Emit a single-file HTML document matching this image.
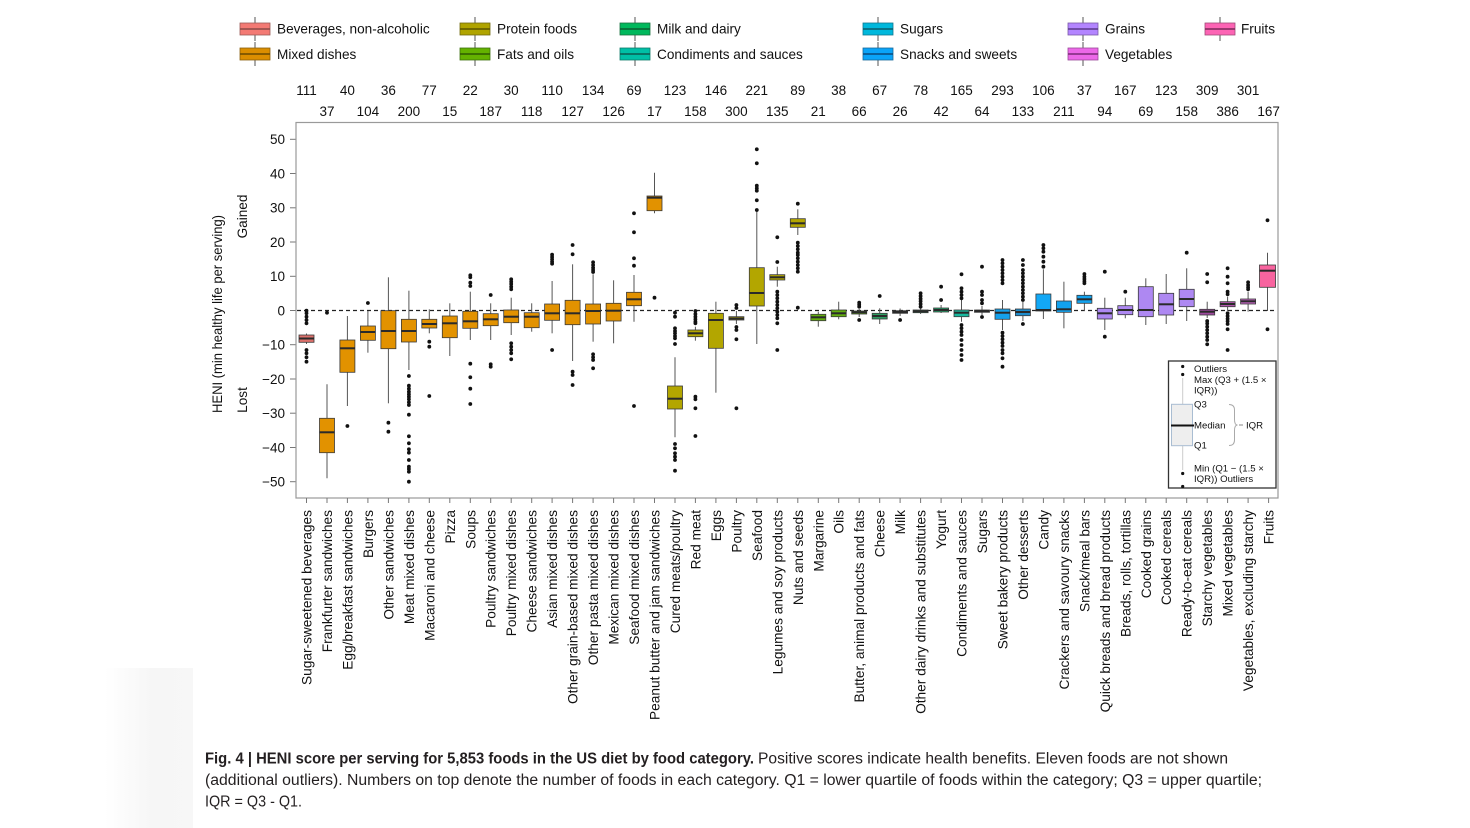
<!DOCTYPE html>
<html><head><meta charset="utf-8"><style>
html,body{margin:0;padding:0;background:#fff;}
svg{display:block;font-family:"Liberation Sans",Arial,sans-serif;}
.w{stroke:#555;stroke-width:1;}
.b{stroke:#3a3a3a;stroke-width:0.8;}
.m{stroke:#2a2a2a;stroke-width:2;}
.lt{font-size:13.6px;fill:#111;}
.cn{font-size:13.5px;fill:#111;text-anchor:middle;}
.yt{font-size:13.5px;fill:#111;text-anchor:end;}
.xl{font-size:13.7px;fill:#111;text-anchor:end;}
.lg{font-size:9.6px;fill:#111;}
</style></head><body>
<svg width="1470" height="828" viewBox="0 0 1470 828" xmlns="http://www.w3.org/2000/svg">
<defs>
<linearGradient id="fg" x1="0" x2="1" y1="0" y2="0">
<stop offset="0" stop-color="#f6f6f6" stop-opacity="0"/>
<stop offset="0.55" stop-color="#f6f6f6" stop-opacity="1"/>
<stop offset="1" stop-color="#f7f7f7" stop-opacity="1"/>
</linearGradient>
</defs>
<rect x="0" y="0" width="1470" height="828" fill="#fff"/>
<rect x="105" y="668" width="88" height="160" fill="url(#fg)"/>

<!-- Top legend -->
<g>
<g transform="translate(240,0)"><line x1="15" y1="17" x2="15" y2="41" class="w" stroke="#888"/><rect x="0" y="23" width="30" height="12" fill="#F37A74" stroke="#9a5a56" stroke-width="0.8"/><line x1="0" y1="29" x2="30" y2="29" stroke="#8a4a46" stroke-width="1.5"/></g>
<text x="277" y="33.5" class="lt">Beverages, non-alcoholic</text>
<g transform="translate(240,25)"><line x1="15" y1="17" x2="15" y2="41" class="w" stroke="#888"/><rect x="0" y="23" width="30" height="12" fill="#DB8E00" stroke="#8a6010" stroke-width="0.8"/><line x1="0" y1="29" x2="30" y2="29" stroke="#6a4a00" stroke-width="1.5"/></g>
<text x="277" y="59" class="lt">Mixed dishes</text>

<g transform="translate(460,0)"><line x1="15" y1="17" x2="15" y2="41" class="w" stroke="#888"/><rect x="0" y="23" width="30" height="12" fill="#B0A400" stroke="#706a10" stroke-width="0.8"/><line x1="0" y1="29" x2="30" y2="29" stroke="#5a5500" stroke-width="1.5"/></g>
<text x="497" y="33.5" class="lt">Protein foods</text>
<g transform="translate(460,25)"><line x1="15" y1="17" x2="15" y2="41" class="w" stroke="#888"/><rect x="0" y="23" width="30" height="12" fill="#64B200" stroke="#3e7010" stroke-width="0.8"/><line x1="0" y1="29" x2="30" y2="29" stroke="#2e5a00" stroke-width="1.5"/></g>
<text x="497" y="59" class="lt">Fats and oils</text>

<g transform="translate(620,0)"><line x1="15" y1="17" x2="15" y2="41" class="w" stroke="#888"/><rect x="0" y="23" width="30" height="12" fill="#00B85C" stroke="#1a7040" stroke-width="0.8"/><line x1="0" y1="29" x2="30" y2="29" stroke="#0a5a30" stroke-width="1.5"/></g>
<text x="657" y="33.5" class="lt">Milk and dairy</text>
<g transform="translate(620,25)"><line x1="15" y1="17" x2="15" y2="41" class="w" stroke="#888"/><rect x="0" y="23" width="30" height="12" fill="#00BFA6" stroke="#107a6a" stroke-width="0.8"/><line x1="0" y1="29" x2="30" y2="29" stroke="#0a5a50" stroke-width="1.5"/></g>
<text x="657" y="59" class="lt">Condiments and sauces</text>

<g transform="translate(863,0)"><line x1="15" y1="17" x2="15" y2="41" class="w" stroke="#888"/><rect x="0" y="23" width="30" height="12" fill="#00B8DC" stroke="#107890" stroke-width="0.8"/><line x1="0" y1="29" x2="30" y2="29" stroke="#0a5a6a" stroke-width="1.5"/></g>
<text x="900" y="33.5" class="lt">Sugars</text>
<g transform="translate(863,25)"><line x1="15" y1="17" x2="15" y2="41" class="w" stroke="#888"/><rect x="0" y="23" width="30" height="12" fill="#0AA4F8" stroke="#1a6a9a" stroke-width="0.8"/><line x1="0" y1="29" x2="30" y2="29" stroke="#0a4a7a" stroke-width="1.5"/></g>
<text x="900" y="59" class="lt">Snacks and sweets</text>

<g transform="translate(1068,0)"><line x1="15" y1="17" x2="15" y2="41" class="w" stroke="#888"/><rect x="0" y="23" width="30" height="12" fill="#B385FF" stroke="#7a5aa8" stroke-width="0.8"/><line x1="0" y1="29" x2="30" y2="29" stroke="#5a3a8a" stroke-width="1.5"/></g>
<text x="1105" y="33.5" class="lt">Grains</text>
<g transform="translate(1068,25)"><line x1="15" y1="17" x2="15" y2="41" class="w" stroke="#888"/><rect x="0" y="23" width="30" height="12" fill="#EC68E8" stroke="#9a4a98" stroke-width="0.8"/><line x1="0" y1="29" x2="30" y2="29" stroke="#7a2a78" stroke-width="1.5"/></g>
<text x="1105" y="59" class="lt">Vegetables</text>

<g transform="translate(1205,0)"><line x1="15" y1="17" x2="15" y2="41" class="w" stroke="#888"/><rect x="0" y="23" width="30" height="12" fill="#FC64B4" stroke="#a04a78" stroke-width="0.8"/><line x1="0" y1="29" x2="30" y2="29" stroke="#7a2a58" stroke-width="1.5"/></g>
<text x="1241" y="33.5" class="lt">Fruits</text>
</g>

<!-- Counts -->
<g>
<text x="306.5" y="95" class="cn">111</text>
<text x="327.0" y="116" class="cn">37</text>
<text x="347.4" y="95" class="cn">40</text>
<text x="367.9" y="116" class="cn">104</text>
<text x="388.4" y="95" class="cn">36</text>
<text x="408.9" y="116" class="cn">200</text>
<text x="429.3" y="95" class="cn">77</text>
<text x="449.8" y="116" class="cn">15</text>
<text x="470.3" y="95" class="cn">22</text>
<text x="490.7" y="116" class="cn">187</text>
<text x="511.2" y="95" class="cn">30</text>
<text x="531.7" y="116" class="cn">118</text>
<text x="552.1" y="95" class="cn">110</text>
<text x="572.6" y="116" class="cn">127</text>
<text x="593.1" y="95" class="cn">134</text>
<text x="613.6" y="116" class="cn">126</text>
<text x="634.0" y="95" class="cn">69</text>
<text x="654.5" y="116" class="cn">17</text>
<text x="675.0" y="95" class="cn">123</text>
<text x="695.4" y="116" class="cn">158</text>
<text x="715.9" y="95" class="cn">146</text>
<text x="736.4" y="116" class="cn">300</text>
<text x="756.8" y="95" class="cn">221</text>
<text x="777.3" y="116" class="cn">135</text>
<text x="797.8" y="95" class="cn">89</text>
<text x="818.3" y="116" class="cn">21</text>
<text x="838.7" y="95" class="cn">38</text>
<text x="859.2" y="116" class="cn">66</text>
<text x="879.7" y="95" class="cn">67</text>
<text x="900.1" y="116" class="cn">26</text>
<text x="920.6" y="95" class="cn">78</text>
<text x="941.1" y="116" class="cn">42</text>
<text x="961.5" y="95" class="cn">165</text>
<text x="982.0" y="116" class="cn">64</text>
<text x="1002.5" y="95" class="cn">293</text>
<text x="1022.9" y="116" class="cn">133</text>
<text x="1043.4" y="95" class="cn">106</text>
<text x="1063.9" y="116" class="cn">211</text>
<text x="1084.4" y="95" class="cn">37</text>
<text x="1104.8" y="116" class="cn">94</text>
<text x="1125.3" y="95" class="cn">167</text>
<text x="1145.8" y="116" class="cn">69</text>
<text x="1166.2" y="95" class="cn">123</text>
<text x="1186.7" y="116" class="cn">158</text>
<text x="1207.2" y="95" class="cn">309</text>
<text x="1227.6" y="116" class="cn">386</text>
<text x="1248.1" y="95" class="cn">301</text>
<text x="1268.6" y="116" class="cn">167</text>
</g>

<!-- Axis titles -->
<text transform="translate(222,314) rotate(-90)" text-anchor="middle" style="font-size:13.6px;fill:#111" textLength="198" lengthAdjust="spacingAndGlyphs">HENI (min healthy life per serving)</text>
<text transform="translate(247,216.5) rotate(-90)" text-anchor="middle" style="font-size:13.6px;fill:#111">Gained</text>
<text transform="translate(247,400) rotate(-90)" text-anchor="middle" style="font-size:13.6px;fill:#111">Lost</text>

<!-- Y ticks -->
<g stroke="#777" stroke-width="1">
<line x1="290" y1="139.3" x2="296" y2="139.3"/>
<line x1="290" y1="173.5" x2="296" y2="173.5"/>
<line x1="290" y1="207.8" x2="296" y2="207.8"/>
<line x1="290" y1="242" x2="296" y2="242"/>
<line x1="290" y1="276.3" x2="296" y2="276.3"/>
<line x1="290" y1="310.5" x2="296" y2="310.5"/>
<line x1="290" y1="344.7" x2="296" y2="344.7"/>
<line x1="290" y1="379" x2="296" y2="379"/>
<line x1="290" y1="413.2" x2="296" y2="413.2"/>
<line x1="290" y1="447.5" x2="296" y2="447.5"/>
<line x1="290" y1="481.7" x2="296" y2="481.7"/>
</g>
<g>
<text x="285" y="144.1" class="yt">50</text>
<text x="285" y="178.3" class="yt">40</text>
<text x="285" y="212.6" class="yt">30</text>
<text x="285" y="246.8" class="yt">20</text>
<text x="285" y="281.1" class="yt">10</text>
<text x="285" y="315.3" class="yt">0</text>
<text x="285" y="349.5" class="yt">−10</text>
<text x="285" y="383.8" class="yt">−20</text>
<text x="285" y="418" class="yt">−30</text>
<text x="285" y="452.3" class="yt">−40</text>
<text x="285" y="486.5" class="yt">−50</text>
</g>

<!-- Plot frame -->
<rect x="296" y="122.5" width="982" height="375.5" fill="none" stroke="#9a9a9a" stroke-width="1.2"/>
<line x1="297" y1="310.5" x2="1277" y2="310.5" stroke="#222" stroke-width="1.3" stroke-dasharray="4 3"/>

<!-- X ticks -->
<g stroke="#777" stroke-width="1">
<line x1="306.5" y1="498" x2="306.5" y2="503"/><line x1="327.0" y1="498" x2="327.0" y2="503"/><line x1="347.4" y1="498" x2="347.4" y2="503"/><line x1="367.9" y1="498" x2="367.9" y2="503"/><line x1="388.4" y1="498" x2="388.4" y2="503"/><line x1="408.9" y1="498" x2="408.9" y2="503"/><line x1="429.3" y1="498" x2="429.3" y2="503"/><line x1="449.8" y1="498" x2="449.8" y2="503"/><line x1="470.3" y1="498" x2="470.3" y2="503"/><line x1="490.7" y1="498" x2="490.7" y2="503"/><line x1="511.2" y1="498" x2="511.2" y2="503"/><line x1="531.7" y1="498" x2="531.7" y2="503"/><line x1="552.1" y1="498" x2="552.1" y2="503"/><line x1="572.6" y1="498" x2="572.6" y2="503"/><line x1="593.1" y1="498" x2="593.1" y2="503"/><line x1="613.6" y1="498" x2="613.6" y2="503"/><line x1="634.0" y1="498" x2="634.0" y2="503"/><line x1="654.5" y1="498" x2="654.5" y2="503"/><line x1="675.0" y1="498" x2="675.0" y2="503"/><line x1="695.4" y1="498" x2="695.4" y2="503"/><line x1="715.9" y1="498" x2="715.9" y2="503"/><line x1="736.4" y1="498" x2="736.4" y2="503"/><line x1="756.8" y1="498" x2="756.8" y2="503"/><line x1="777.3" y1="498" x2="777.3" y2="503"/><line x1="797.8" y1="498" x2="797.8" y2="503"/><line x1="818.3" y1="498" x2="818.3" y2="503"/><line x1="838.7" y1="498" x2="838.7" y2="503"/><line x1="859.2" y1="498" x2="859.2" y2="503"/><line x1="879.7" y1="498" x2="879.7" y2="503"/><line x1="900.1" y1="498" x2="900.1" y2="503"/><line x1="920.6" y1="498" x2="920.6" y2="503"/><line x1="941.1" y1="498" x2="941.1" y2="503"/><line x1="961.5" y1="498" x2="961.5" y2="503"/><line x1="982.0" y1="498" x2="982.0" y2="503"/><line x1="1002.5" y1="498" x2="1002.5" y2="503"/><line x1="1022.9" y1="498" x2="1022.9" y2="503"/><line x1="1043.4" y1="498" x2="1043.4" y2="503"/><line x1="1063.9" y1="498" x2="1063.9" y2="503"/><line x1="1084.4" y1="498" x2="1084.4" y2="503"/><line x1="1104.8" y1="498" x2="1104.8" y2="503"/><line x1="1125.3" y1="498" x2="1125.3" y2="503"/><line x1="1145.8" y1="498" x2="1145.8" y2="503"/><line x1="1166.2" y1="498" x2="1166.2" y2="503"/><line x1="1186.7" y1="498" x2="1186.7" y2="503"/><line x1="1207.2" y1="498" x2="1207.2" y2="503"/><line x1="1227.6" y1="498" x2="1227.6" y2="503"/><line x1="1248.1" y1="498" x2="1248.1" y2="503"/><line x1="1268.6" y1="498" x2="1268.6" y2="503"/>
</g>

<!-- X labels -->
<g>
<text transform="translate(311.5,510) rotate(-90)" class="xl">Sugar-sweetened beverages</text>
<text transform="translate(332.0,510) rotate(-90)" class="xl">Frankfurter sandwiches</text>
<text transform="translate(352.4,510) rotate(-90)" class="xl">Egg/breakfast sandwiches</text>
<text transform="translate(372.9,510) rotate(-90)" class="xl">Burgers</text>
<text transform="translate(393.4,510) rotate(-90)" class="xl">Other sandwiches</text>
<text transform="translate(413.9,510) rotate(-90)" class="xl">Meat mixed dishes</text>
<text transform="translate(434.3,510) rotate(-90)" class="xl">Macaroni and cheese</text>
<text transform="translate(454.8,510) rotate(-90)" class="xl">Pizza</text>
<text transform="translate(475.3,510) rotate(-90)" class="xl">Soups</text>
<text transform="translate(495.7,510) rotate(-90)" class="xl">Poultry sandwiches</text>
<text transform="translate(516.2,510) rotate(-90)" class="xl">Poultry mixed dishes</text>
<text transform="translate(536.7,510) rotate(-90)" class="xl">Cheese sandwiches</text>
<text transform="translate(557.1,510) rotate(-90)" class="xl">Asian mixed dishes</text>
<text transform="translate(577.6,510) rotate(-90)" class="xl">Other grain-based mixed dishes</text>
<text transform="translate(598.1,510) rotate(-90)" class="xl">Other pasta mixed dishes</text>
<text transform="translate(618.6,510) rotate(-90)" class="xl">Mexican mixed dishes</text>
<text transform="translate(639.0,510) rotate(-90)" class="xl">Seafood mixed dishes</text>
<text transform="translate(659.5,510) rotate(-90)" class="xl">Peanut butter and jam sandwiches</text>
<text transform="translate(680.0,510) rotate(-90)" class="xl">Cured meats/poultry</text>
<text transform="translate(700.4,510) rotate(-90)" class="xl">Red meat</text>
<text transform="translate(720.9,510) rotate(-90)" class="xl">Eggs</text>
<text transform="translate(741.4,510) rotate(-90)" class="xl">Poultry</text>
<text transform="translate(761.8,510) rotate(-90)" class="xl">Seafood</text>
<text transform="translate(782.3,510) rotate(-90)" class="xl">Legumes and soy products</text>
<text transform="translate(802.8,510) rotate(-90)" class="xl">Nuts and seeds</text>
<text transform="translate(823.3,510) rotate(-90)" class="xl">Margarine</text>
<text transform="translate(843.7,510) rotate(-90)" class="xl">Oils</text>
<text transform="translate(864.2,510) rotate(-90)" class="xl">Butter, animal products and fats</text>
<text transform="translate(884.7,510) rotate(-90)" class="xl">Cheese</text>
<text transform="translate(905.1,510) rotate(-90)" class="xl">Milk</text>
<text transform="translate(925.6,510) rotate(-90)" class="xl">Other dairy drinks and substitutes</text>
<text transform="translate(946.1,510) rotate(-90)" class="xl">Yogurt</text>
<text transform="translate(966.5,510) rotate(-90)" class="xl">Condiments and sauces</text>
<text transform="translate(987.0,510) rotate(-90)" class="xl">Sugars</text>
<text transform="translate(1007.5,510) rotate(-90)" class="xl">Sweet bakery products</text>
<text transform="translate(1027.9,510) rotate(-90)" class="xl">Other desserts</text>
<text transform="translate(1048.4,510) rotate(-90)" class="xl">Candy</text>
<text transform="translate(1068.9,510) rotate(-90)" class="xl">Crackers and savoury snacks</text>
<text transform="translate(1089.4,510) rotate(-90)" class="xl">Snack/meal bars</text>
<text transform="translate(1109.8,510) rotate(-90)" class="xl">Quick breads and bread products</text>
<text transform="translate(1130.3,510) rotate(-90)" class="xl">Breads, rolls, tortillas</text>
<text transform="translate(1150.8,510) rotate(-90)" class="xl">Cooked grains</text>
<text transform="translate(1171.2,510) rotate(-90)" class="xl">Cooked cereals</text>
<text transform="translate(1191.7,510) rotate(-90)" class="xl">Ready-to-eat cereals</text>
<text transform="translate(1212.2,510) rotate(-90)" class="xl">Starchy vegetables</text>
<text transform="translate(1232.6,510) rotate(-90)" class="xl">Mixed vegetables</text>
<text transform="translate(1253.1,510) rotate(-90)" class="xl">Vegetables, excluding starchy</text>
<text transform="translate(1273.6,510) rotate(-90)" class="xl">Fruits</text>
</g>

<!-- Boxes -->
<g>
<line x1="306.5" y1="333.5" x2="306.5" y2="344" class="w"/>
<rect x="299" y="335" width="15" height="7.3" fill="#DC716C" class="b"/>
<line x1="299" y1="338.5" x2="314" y2="338.5" class="m"/>
<line x1="327" y1="384.3" x2="327" y2="478.3" class="w"/>
<rect x="319.5" y="418.3" width="15" height="34.4" fill="#E29200" class="b"/>
<line x1="319.5" y1="432.3" x2="334.5" y2="432.3" class="m"/>
<line x1="347.4" y1="316" x2="347.4" y2="406" class="w"/>
<rect x="339.9" y="340" width="15" height="32.3" fill="#E29200" class="b"/>
<line x1="339.9" y1="348.3" x2="354.9" y2="348.3" class="m"/>
<line x1="367.9" y1="311" x2="367.9" y2="352.7" class="w"/>
<rect x="360.4" y="326" width="15" height="14.3" fill="#E29200" class="b"/>
<line x1="360.4" y1="332" x2="375.4" y2="332" class="m"/>
<line x1="388.4" y1="277.3" x2="388.4" y2="403.3" class="w"/>
<rect x="380.9" y="310.7" width="15" height="38" fill="#E29200" class="b"/>
<line x1="380.9" y1="331" x2="395.9" y2="331" class="m"/>
<line x1="408.9" y1="290.7" x2="408.9" y2="370" class="w"/>
<rect x="401.4" y="319.3" width="15" height="22.7" fill="#E29200" class="b"/>
<line x1="401.4" y1="331" x2="416.4" y2="331" class="m"/>
<line x1="429.3" y1="309.3" x2="429.3" y2="333.3" class="w"/>
<rect x="421.8" y="319.3" width="15" height="8.7" fill="#E29200" class="b"/>
<line x1="421.8" y1="324" x2="436.8" y2="324" class="m"/>
<line x1="449.8" y1="303.3" x2="449.8" y2="356" class="w"/>
<rect x="442.3" y="316" width="15" height="21.7" fill="#E29200" class="b"/>
<line x1="442.3" y1="323.3" x2="457.3" y2="323.3" class="m"/>
<line x1="470.3" y1="291.7" x2="470.3" y2="340" class="w"/>
<rect x="462.8" y="311.3" width="15" height="17" fill="#E29200" class="b"/>
<line x1="462.8" y1="321.3" x2="477.8" y2="321.3" class="m"/>
<line x1="490.7" y1="303.3" x2="490.7" y2="340" class="w"/>
<rect x="483.2" y="313.7" width="15" height="12" fill="#E29200" class="b"/>
<line x1="483.2" y1="319.3" x2="498.2" y2="319.3" class="m"/>
<line x1="511.2" y1="297.7" x2="511.2" y2="335" class="w"/>
<rect x="503.7" y="310" width="15" height="12.7" fill="#E29200" class="b"/>
<line x1="503.7" y1="316.7" x2="518.7" y2="316.7" class="m"/>
<line x1="531.7" y1="303.3" x2="531.7" y2="331.7" class="w"/>
<rect x="524.2" y="312.7" width="15" height="15" fill="#E29200" class="b"/>
<line x1="524.2" y1="316.7" x2="539.2" y2="316.7" class="m"/>
<line x1="552.1" y1="281" x2="552.1" y2="333.3" class="w"/>
<rect x="544.6" y="304" width="15" height="16.3" fill="#E29200" class="b"/>
<line x1="544.6" y1="313.3" x2="559.6" y2="313.3" class="m"/>
<line x1="572.6" y1="264.3" x2="572.6" y2="361" class="w"/>
<rect x="565.1" y="300.3" width="15" height="24.4" fill="#E29200" class="b"/>
<line x1="565.1" y1="313.3" x2="580.1" y2="313.3" class="m"/>
<line x1="593.1" y1="274.3" x2="593.1" y2="341.7" class="w"/>
<rect x="585.6" y="304" width="15" height="20" fill="#E29200" class="b"/>
<line x1="585.6" y1="311" x2="600.6" y2="311" class="m"/>
<line x1="613.6" y1="280.3" x2="613.6" y2="343.3" class="w"/>
<rect x="606.1" y="303.3" width="15" height="17.7" fill="#E29200" class="b"/>
<line x1="606.1" y1="310.7" x2="621.1" y2="310.7" class="m"/>
<line x1="634" y1="275" x2="634" y2="321.7" class="w"/>
<rect x="626.5" y="292.3" width="15" height="13.4" fill="#E29200" class="b"/>
<line x1="626.5" y1="299.3" x2="641.5" y2="299.3" class="m"/>
<line x1="654.5" y1="172.7" x2="654.5" y2="213.3" class="w"/>
<rect x="647" y="196" width="15" height="14.7" fill="#E29200" class="b"/>
<line x1="647" y1="197.7" x2="662" y2="197.7" class="m"/>
<line x1="675" y1="357.3" x2="675" y2="437.3" class="w"/>
<rect x="667.5" y="386" width="15" height="23" fill="#B3A600" class="b"/>
<line x1="667.5" y1="398.7" x2="682.5" y2="398.7" class="m"/>
<line x1="695.4" y1="326.7" x2="695.4" y2="340.7" class="w"/>
<rect x="687.9" y="330" width="15" height="6.7" fill="#B3A600" class="b"/>
<line x1="687.9" y1="333.3" x2="702.9" y2="333.3" class="m"/>
<line x1="715.9" y1="301.7" x2="715.9" y2="392.7" class="w"/>
<rect x="708.4" y="313.3" width="15" height="35" fill="#B3A600" class="b"/>
<line x1="708.4" y1="320" x2="723.4" y2="320" class="m"/>
<line x1="736.4" y1="311" x2="736.4" y2="324" class="w"/>
<rect x="728.9" y="316.7" width="15" height="3.3" fill="#B3A600" class="b"/>
<line x1="728.9" y1="318.5" x2="743.9" y2="318.5" class="m"/>
<line x1="756.8" y1="210.7" x2="756.8" y2="344" class="w"/>
<rect x="749.3" y="267.7" width="15" height="38.3" fill="#B3A600" class="b"/>
<line x1="749.3" y1="293" x2="764.3" y2="293" class="m"/>
<line x1="777.3" y1="266.7" x2="777.3" y2="286.7" class="w"/>
<rect x="769.8" y="274.7" width="15" height="5.3" fill="#B3A600" class="b"/>
<line x1="769.8" y1="277.3" x2="784.8" y2="277.3" class="m"/>
<line x1="797.8" y1="209.3" x2="797.8" y2="235" class="w"/>
<rect x="790.3" y="218.7" width="15" height="8.6" fill="#B3A600" class="b"/>
<line x1="790.3" y1="223.3" x2="805.3" y2="223.3" class="m"/>
<line x1="818.3" y1="311.7" x2="818.3" y2="326.7" class="w"/>
<rect x="810.8" y="314.3" width="15" height="6.4" fill="#62AE0E" class="b"/>
<line x1="810.8" y1="317.3" x2="825.8" y2="317.3" class="m"/>
<line x1="838.7" y1="301.7" x2="838.7" y2="319.3" class="w"/>
<rect x="831.2" y="310" width="15" height="6.7" fill="#62AE0E" class="b"/>
<line x1="831.2" y1="313.3" x2="846.2" y2="313.3" class="m"/>
<line x1="859.2" y1="309" x2="859.2" y2="317" class="w"/>
<rect x="851.7" y="311" width="15" height="3" fill="#62AE0E" class="b"/>
<line x1="851.7" y1="312.3" x2="866.7" y2="312.3" class="m"/>
<line x1="879.7" y1="308.3" x2="879.7" y2="324" class="w"/>
<rect x="872.2" y="313.3" width="15" height="5.7" fill="#2E9E62" class="b"/>
<line x1="872.2" y1="316" x2="887.2" y2="316" class="m"/>
<line x1="900.1" y1="308.5" x2="900.1" y2="316" class="w"/>
<rect x="892.6" y="310.7" width="15" height="2.6" fill="#2E9E62" class="b"/>
<line x1="892.6" y1="312" x2="907.6" y2="312" class="m"/>
<line x1="920.6" y1="308" x2="920.6" y2="314" class="w"/>
<rect x="913.1" y="310" width="15" height="2.7" fill="#2E9E62" class="b"/>
<line x1="913.1" y1="311.3" x2="928.1" y2="311.3" class="m"/>
<line x1="941.1" y1="305" x2="941.1" y2="313" class="w"/>
<rect x="933.6" y="308" width="15" height="4" fill="#22A86C" class="b"/>
<line x1="933.6" y1="310" x2="948.6" y2="310" class="m"/>
<line x1="961.5" y1="300" x2="961.5" y2="321.7" class="w"/>
<rect x="954" y="310" width="15" height="6.7" fill="#18B89E" class="b"/>
<line x1="954" y1="312.7" x2="969" y2="312.7" class="m"/>
<line x1="982" y1="306" x2="982" y2="315" class="w"/>
<rect x="974.5" y="310" width="15" height="2.3" fill="#0CB4D8" class="b"/>
<line x1="974.5" y1="311" x2="989.5" y2="311" class="m"/>
<line x1="1002.5" y1="300" x2="1002.5" y2="330" class="w"/>
<rect x="995" y="309" width="15" height="10.3" fill="#14A0EC" class="b"/>
<line x1="995" y1="312.7" x2="1010" y2="312.7" class="m"/>
<line x1="1022.9" y1="302" x2="1022.9" y2="321" class="w"/>
<rect x="1015.4" y="309" width="15" height="6.7" fill="#1E8CCC" class="b"/>
<line x1="1015.4" y1="312" x2="1030.4" y2="312" class="m"/>
<line x1="1043.4" y1="269.3" x2="1043.4" y2="319" class="w"/>
<rect x="1035.9" y="294" width="15" height="17" fill="#12A8F6" class="b"/>
<line x1="1035.9" y1="310" x2="1050.9" y2="310" class="m"/>
<line x1="1063.9" y1="281.7" x2="1063.9" y2="328.3" class="w"/>
<rect x="1056.4" y="301" width="15" height="11.3" fill="#12A2EE" class="b"/>
<line x1="1056.4" y1="309.3" x2="1071.4" y2="309.3" class="m"/>
<line x1="1084.4" y1="291.7" x2="1084.4" y2="311" class="w"/>
<rect x="1076.9" y="295.3" width="15" height="8" fill="#12A2EE" class="b"/>
<line x1="1076.9" y1="299.3" x2="1091.9" y2="299.3" class="m"/>
<line x1="1104.8" y1="297.7" x2="1104.8" y2="330" class="w"/>
<rect x="1097.3" y="308.3" width="15" height="10.7" fill="#AE88F2" class="b"/>
<line x1="1097.3" y1="313.3" x2="1112.3" y2="313.3" class="m"/>
<line x1="1125.3" y1="297.7" x2="1125.3" y2="318.3" class="w"/>
<rect x="1117.8" y="305.7" width="15" height="9" fill="#AE88F2" class="b"/>
<line x1="1117.8" y1="310" x2="1132.8" y2="310" class="m"/>
<line x1="1145.8" y1="278.3" x2="1145.8" y2="325" class="w"/>
<rect x="1138.3" y="286.7" width="15" height="30" fill="#AE88F2" class="b"/>
<line x1="1138.3" y1="310" x2="1153.3" y2="310" class="m"/>
<line x1="1166.2" y1="274" x2="1166.2" y2="324" class="w"/>
<rect x="1158.7" y="293.3" width="15" height="21.7" fill="#AE88F2" class="b"/>
<line x1="1158.7" y1="304.3" x2="1173.7" y2="304.3" class="m"/>
<line x1="1186.7" y1="268.3" x2="1186.7" y2="321" class="w"/>
<rect x="1179.2" y="289.3" width="15" height="17.4" fill="#AE88F2" class="b"/>
<line x1="1179.2" y1="299" x2="1194.2" y2="299" class="m"/>
<line x1="1207.2" y1="301.7" x2="1207.2" y2="318" class="w"/>
<rect x="1199.7" y="309.3" width="15" height="5.7" fill="#9E4A9E" class="b"/>
<line x1="1199.7" y1="311.7" x2="1214.7" y2="311.7" class="m"/>
<line x1="1227.6" y1="296.7" x2="1227.6" y2="311" class="w"/>
<rect x="1220.1" y="301.7" width="15" height="5" fill="#B056AC" class="b"/>
<line x1="1220.1" y1="304" x2="1235.1" y2="304" class="m"/>
<line x1="1248.1" y1="291.7" x2="1248.1" y2="311.7" class="w"/>
<rect x="1240.6" y="299" width="15" height="5" fill="#C064C0" class="b"/>
<line x1="1240.6" y1="301.3" x2="1255.6" y2="301.3" class="m"/>
<line x1="1267.5" y1="252.7" x2="1267.5" y2="311" class="w"/>
<rect x="1259.5" y="265" width="16" height="22.3" fill="#F8649F" class="b"/>
<line x1="1259.5" y1="270.7" x2="1275.5" y2="270.7" class="m"/>
</g>

<!-- Outliers -->
<g fill="#111">
<circle cx="306.5" cy="310.7" r="1.9"/><circle cx="306.5" cy="313.3" r="1.9"/><circle cx="306.5" cy="316.7" r="1.9"/><circle cx="306.5" cy="320" r="1.9"/><circle cx="306.5" cy="323.3" r="1.9"/><circle cx="306.5" cy="350" r="1.9"/><circle cx="306.5" cy="353.3" r="1.9"/><circle cx="306.5" cy="357.3" r="1.9"/><circle cx="306.5" cy="361.7" r="1.9"/>
<circle cx="327" cy="312.7" r="1.9"/>
<circle cx="347.4" cy="426" r="1.9"/>
<circle cx="367.9" cy="303" r="1.9"/>
<circle cx="388.4" cy="422.7" r="1.9"/><circle cx="388.4" cy="431.7" r="1.9"/>
<circle cx="408.9" cy="376" r="1.9"/><circle cx="408.9" cy="385.7" r="1.9"/><circle cx="408.9" cy="388.7" r="1.9"/><circle cx="408.9" cy="391.7" r="1.9"/><circle cx="408.9" cy="394.3" r="1.9"/><circle cx="408.9" cy="396.7" r="1.9"/><circle cx="408.9" cy="399.3" r="1.9"/><circle cx="408.9" cy="402.3" r="1.9"/><circle cx="408.9" cy="405" r="1.9"/><circle cx="408.9" cy="414.7" r="1.9"/><circle cx="408.9" cy="436.3" r="1.9"/><circle cx="408.9" cy="443.3" r="1.9"/><circle cx="408.9" cy="449.3" r="1.9"/><circle cx="408.9" cy="452.7" r="1.9"/><circle cx="408.9" cy="460" r="1.9"/><circle cx="408.9" cy="466.7" r="1.9"/><circle cx="408.9" cy="469" r="1.9"/><circle cx="408.9" cy="471.7" r="1.9"/><circle cx="408.9" cy="481.7" r="1.9"/>
<circle cx="429.3" cy="341.7" r="1.9"/><circle cx="429.3" cy="346.7" r="1.9"/><circle cx="429.3" cy="396" r="1.9"/>
<circle cx="470.3" cy="275.3" r="1.9"/><circle cx="470.3" cy="277.3" r="1.9"/><circle cx="470.3" cy="282.7" r="1.9"/><circle cx="470.3" cy="286" r="1.9"/><circle cx="470.3" cy="363.7" r="1.9"/><circle cx="470.3" cy="377.3" r="1.9"/><circle cx="470.3" cy="388.7" r="1.9"/><circle cx="470.3" cy="404" r="1.9"/>
<circle cx="490.7" cy="295" r="1.9"/><circle cx="490.7" cy="364.3" r="1.9"/><circle cx="490.7" cy="366.7" r="1.9"/>
<circle cx="511.2" cy="279.3" r="1.9"/><circle cx="511.2" cy="281.7" r="1.9"/><circle cx="511.2" cy="284" r="1.9"/><circle cx="511.2" cy="286.7" r="1.9"/><circle cx="511.2" cy="289.3" r="1.9"/><circle cx="511.2" cy="343.3" r="1.9"/><circle cx="511.2" cy="346.7" r="1.9"/><circle cx="511.2" cy="350" r="1.9"/><circle cx="511.2" cy="353.3" r="1.9"/><circle cx="511.2" cy="359.3" r="1.9"/>
<circle cx="552.1" cy="254.7" r="1.9"/><circle cx="552.1" cy="257" r="1.9"/><circle cx="552.1" cy="259.3" r="1.9"/><circle cx="552.1" cy="261.7" r="1.9"/><circle cx="552.1" cy="263.7" r="1.9"/><circle cx="552.1" cy="350" r="1.9"/>
<circle cx="572.6" cy="245" r="1.9"/><circle cx="572.6" cy="254.3" r="1.9"/><circle cx="572.6" cy="371.7" r="1.9"/><circle cx="572.6" cy="375" r="1.9"/><circle cx="572.6" cy="385" r="1.9"/>
<circle cx="593.1" cy="262.3" r="1.9"/><circle cx="593.1" cy="265" r="1.9"/><circle cx="593.1" cy="267.7" r="1.9"/><circle cx="593.1" cy="270" r="1.9"/><circle cx="593.1" cy="272" r="1.9"/><circle cx="593.1" cy="354.3" r="1.9"/><circle cx="593.1" cy="357.3" r="1.9"/><circle cx="593.1" cy="360" r="1.9"/><circle cx="593.1" cy="368.3" r="1.9"/>
<circle cx="634" cy="213.3" r="1.9"/><circle cx="634" cy="232.3" r="1.9"/><circle cx="634" cy="258.3" r="1.9"/><circle cx="634" cy="265.7" r="1.9"/><circle cx="634" cy="406" r="1.9"/>
<circle cx="654.5" cy="297.7" r="1.9"/>
<circle cx="675" cy="312.7" r="1.9"/><circle cx="675" cy="316.7" r="1.9"/><circle cx="675" cy="328.3" r="1.9"/><circle cx="675" cy="331" r="1.9"/><circle cx="675" cy="333.3" r="1.9"/><circle cx="675" cy="336" r="1.9"/><circle cx="675" cy="338.3" r="1.9"/><circle cx="675" cy="344" r="1.9"/><circle cx="675" cy="444" r="1.9"/><circle cx="675" cy="448.3" r="1.9"/><circle cx="675" cy="453.3" r="1.9"/><circle cx="675" cy="456.7" r="1.9"/><circle cx="675" cy="460" r="1.9"/><circle cx="675" cy="470.7" r="1.9"/>
<circle cx="695.4" cy="311" r="1.9"/><circle cx="695.4" cy="314" r="1.9"/><circle cx="695.4" cy="316.7" r="1.9"/><circle cx="695.4" cy="319.3" r="1.9"/><circle cx="695.4" cy="321.7" r="1.9"/><circle cx="695.4" cy="323.3" r="1.9"/><circle cx="695.4" cy="396.7" r="1.9"/><circle cx="695.4" cy="399.3" r="1.9"/><circle cx="695.4" cy="408.3" r="1.9"/><circle cx="695.4" cy="436" r="1.9"/>
<circle cx="736.4" cy="305" r="1.9"/><circle cx="736.4" cy="308" r="1.9"/><circle cx="736.4" cy="327" r="1.9"/><circle cx="736.4" cy="330" r="1.9"/><circle cx="736.4" cy="339.3" r="1.9"/><circle cx="736.4" cy="408.3" r="1.9"/>
<circle cx="756.8" cy="149.3" r="1.9"/><circle cx="756.8" cy="163.3" r="1.9"/><circle cx="756.8" cy="185.7" r="1.9"/><circle cx="756.8" cy="188.3" r="1.9"/><circle cx="756.8" cy="190.7" r="1.9"/><circle cx="756.8" cy="200.3" r="1.9"/><circle cx="756.8" cy="210" r="1.9"/>
<circle cx="777.3" cy="237.3" r="1.9"/><circle cx="777.3" cy="262" r="1.9"/><circle cx="777.3" cy="291.7" r="1.9"/><circle cx="777.3" cy="295" r="1.9"/><circle cx="777.3" cy="298.3" r="1.9"/><circle cx="777.3" cy="301.7" r="1.9"/><circle cx="777.3" cy="305" r="1.9"/><circle cx="777.3" cy="308.3" r="1.9"/><circle cx="777.3" cy="311.7" r="1.9"/><circle cx="777.3" cy="315" r="1.9"/><circle cx="777.3" cy="318.3" r="1.9"/><circle cx="777.3" cy="323.3" r="1.9"/><circle cx="777.3" cy="350" r="1.9"/>
<circle cx="797.8" cy="203.7" r="1.9"/><circle cx="797.8" cy="242.7" r="1.9"/><circle cx="797.8" cy="246" r="1.9"/><circle cx="797.8" cy="249.3" r="1.9"/><circle cx="797.8" cy="252.7" r="1.9"/><circle cx="797.8" cy="255" r="1.9"/><circle cx="797.8" cy="258.3" r="1.9"/><circle cx="797.8" cy="261.7" r="1.9"/><circle cx="797.8" cy="265" r="1.9"/><circle cx="797.8" cy="268.3" r="1.9"/><circle cx="797.8" cy="271.7" r="1.9"/><circle cx="797.8" cy="307.7" r="1.9"/>
<circle cx="859.2" cy="302.7" r="1.9"/><circle cx="859.2" cy="304.7" r="1.9"/><circle cx="859.2" cy="306.7" r="1.9"/><circle cx="859.2" cy="320" r="1.9"/>
<circle cx="879.7" cy="296" r="1.9"/>
<circle cx="900.1" cy="320" r="1.9"/>
<circle cx="920.6" cy="293.3" r="1.9"/><circle cx="920.6" cy="296" r="1.9"/><circle cx="920.6" cy="298.7" r="1.9"/><circle cx="920.6" cy="301.3" r="1.9"/><circle cx="920.6" cy="304" r="1.9"/><circle cx="920.6" cy="306.7" r="1.9"/>
<circle cx="941.1" cy="286.7" r="1.9"/><circle cx="941.1" cy="300" r="1.9"/>
<circle cx="961.5" cy="274.3" r="1.9"/><circle cx="961.5" cy="288.3" r="1.9"/><circle cx="961.5" cy="291.7" r="1.9"/><circle cx="961.5" cy="295" r="1.9"/><circle cx="961.5" cy="298.3" r="1.9"/><circle cx="961.5" cy="325" r="1.9"/><circle cx="961.5" cy="328.3" r="1.9"/><circle cx="961.5" cy="331.7" r="1.9"/><circle cx="961.5" cy="335" r="1.9"/><circle cx="961.5" cy="340" r="1.9"/><circle cx="961.5" cy="345" r="1.9"/><circle cx="961.5" cy="350" r="1.9"/><circle cx="961.5" cy="355" r="1.9"/><circle cx="961.5" cy="360" r="1.9"/>
<circle cx="982" cy="266.7" r="1.9"/><circle cx="982" cy="291.7" r="1.9"/><circle cx="982" cy="295" r="1.9"/><circle cx="982" cy="300" r="1.9"/><circle cx="982" cy="303.3" r="1.9"/><circle cx="982" cy="317" r="1.9"/>
<circle cx="1002.5" cy="260" r="1.9"/><circle cx="1002.5" cy="263.3" r="1.9"/><circle cx="1002.5" cy="266.7" r="1.9"/><circle cx="1002.5" cy="270" r="1.9"/><circle cx="1002.5" cy="273.3" r="1.9"/><circle cx="1002.5" cy="276.7" r="1.9"/><circle cx="1002.5" cy="280" r="1.9"/><circle cx="1002.5" cy="283.3" r="1.9"/><circle cx="1002.5" cy="332.7" r="1.9"/><circle cx="1002.5" cy="336" r="1.9"/><circle cx="1002.5" cy="339.3" r="1.9"/><circle cx="1002.5" cy="342.7" r="1.9"/><circle cx="1002.5" cy="346" r="1.9"/><circle cx="1002.5" cy="350" r="1.9"/><circle cx="1002.5" cy="353.3" r="1.9"/><circle cx="1002.5" cy="358.3" r="1.9"/><circle cx="1002.5" cy="366.7" r="1.9"/>
<circle cx="1022.9" cy="260" r="1.9"/><circle cx="1022.9" cy="265" r="1.9"/><circle cx="1022.9" cy="270" r="1.9"/><circle cx="1022.9" cy="273.3" r="1.9"/><circle cx="1022.9" cy="276.7" r="1.9"/><circle cx="1022.9" cy="280" r="1.9"/><circle cx="1022.9" cy="283.3" r="1.9"/><circle cx="1022.9" cy="286.7" r="1.9"/><circle cx="1022.9" cy="290" r="1.9"/><circle cx="1022.9" cy="293.3" r="1.9"/><circle cx="1022.9" cy="296.7" r="1.9"/><circle cx="1022.9" cy="300" r="1.9"/><circle cx="1022.9" cy="324" r="1.9"/>
<circle cx="1043.4" cy="245" r="1.9"/><circle cx="1043.4" cy="248.3" r="1.9"/><circle cx="1043.4" cy="251.7" r="1.9"/><circle cx="1043.4" cy="256.7" r="1.9"/><circle cx="1043.4" cy="261.7" r="1.9"/><circle cx="1043.4" cy="266.7" r="1.9"/>
<circle cx="1084.4" cy="274" r="1.9"/><circle cx="1084.4" cy="276.7" r="1.9"/><circle cx="1084.4" cy="279" r="1.9"/><circle cx="1084.4" cy="281.3" r="1.9"/><circle cx="1084.4" cy="283.3" r="1.9"/>
<circle cx="1104.8" cy="271.7" r="1.9"/><circle cx="1104.8" cy="336.7" r="1.9"/>
<circle cx="1125.3" cy="291.7" r="1.9"/>
<circle cx="1186.7" cy="252.7" r="1.9"/>
<circle cx="1207.2" cy="274" r="1.9"/><circle cx="1207.2" cy="282.3" r="1.9"/><circle cx="1207.2" cy="321" r="1.9"/><circle cx="1207.2" cy="323.5" r="1.9"/><circle cx="1207.2" cy="326.7" r="1.9"/><circle cx="1207.2" cy="330" r="1.9"/><circle cx="1207.2" cy="333.3" r="1.9"/><circle cx="1207.2" cy="336.7" r="1.9"/><circle cx="1207.2" cy="340" r="1.9"/><circle cx="1207.2" cy="344.3" r="1.9"/>
<circle cx="1227.6" cy="268.3" r="1.9"/><circle cx="1227.6" cy="276.7" r="1.9"/><circle cx="1227.6" cy="283.3" r="1.9"/><circle cx="1227.6" cy="291.7" r="1.9"/><circle cx="1227.6" cy="294.3" r="1.9"/><circle cx="1227.6" cy="313.3" r="1.9"/><circle cx="1227.6" cy="316" r="1.9"/><circle cx="1227.6" cy="318.7" r="1.9"/><circle cx="1227.6" cy="321.3" r="1.9"/><circle cx="1227.6" cy="324" r="1.9"/><circle cx="1227.6" cy="329.3" r="1.9"/><circle cx="1227.6" cy="350" r="1.9"/>
<circle cx="1248.1" cy="282.3" r="1.9"/><circle cx="1248.1" cy="285" r="1.9"/><circle cx="1248.1" cy="287.3" r="1.9"/><circle cx="1248.1" cy="289.3" r="1.9"/>
<circle cx="1267.5" cy="220.3" r="1.9"/><circle cx="1267.5" cy="329.3" r="1.9"/>
</g>

<!-- Inner key legend -->
<g>
<rect x="1168.5" y="361" width="107.5" height="127" fill="#fff" stroke="#333" stroke-width="1.3"/>
<line x1="1182.7" y1="378" x2="1182.7" y2="404.3" stroke="#ccc" stroke-width="1"/>
<line x1="1182.7" y1="445.7" x2="1182.7" y2="470" stroke="#ccc" stroke-width="1"/>
<rect x="1171.5" y="404.3" width="21" height="41.4" fill="#eeeeee" stroke="#a9bdd2" stroke-width="1"/>
<line x1="1171" y1="425.5" x2="1194" y2="425.5" stroke="#111" stroke-width="2"/>
<g fill="#111">
<circle cx="1182.7" cy="366.5" r="1.6"/><circle cx="1182.7" cy="374.5" r="1.6"/>
<circle cx="1182.7" cy="473.5" r="1.6"/><circle cx="1182.7" cy="486.5" r="1.6"/>
</g>
<path d="M1229,404.5 Q1234.5,404.5 1234.5,410 L1234.5,419.5 Q1234.5,425 1237.5,425 Q1234.5,425 1234.5,430.5 L1234.5,440 Q1234.5,445.5 1229,445.5" fill="none" stroke="#aaa" stroke-width="1"/>
<line x1="1239" y1="425" x2="1243" y2="425" stroke="#888" stroke-width="1"/>
<text x="1194" y="372" class="lg">Outliers</text>
<text x="1194" y="383" class="lg">Max (Q3 + (1.5 ×</text>
<text x="1194" y="393.5" class="lg">IQR))</text>
<text x="1194" y="407.5" class="lg">Q3</text>
<text x="1194" y="428.5" class="lg">Median</text>
<text x="1246" y="428.5" class="lg">IQR</text>
<text x="1194" y="448.5" class="lg">Q1</text>
<text x="1194" y="471.5" class="lg">Min (Q1 − (1.5 ×</text>
<text x="1194" y="482" class="lg">IQR)) Outliers</text>
</g>

<!-- Caption -->
<g style="font-size:15.5px;fill:#231f20">
<text x="205" y="763.5" font-weight="bold" textLength="549" lengthAdjust="spacingAndGlyphs">Fig. 4 | HENI score per serving for 5,853 foods in the US diet by food category.</text>
<text x="758" y="763.5" textLength="470" lengthAdjust="spacingAndGlyphs">Positive scores indicate health benefits. Eleven foods are not shown</text>
<text x="205" y="785" textLength="1057" lengthAdjust="spacingAndGlyphs">(additional outliers). Numbers on top denote the number of foods in each category. Q1 = lower quartile of foods within the category; Q3 = upper quartile;</text>
<text x="205" y="806.5" textLength="97" lengthAdjust="spacingAndGlyphs">IQR = Q3 - Q1.</text>
</g>
</svg>
</body></html>
